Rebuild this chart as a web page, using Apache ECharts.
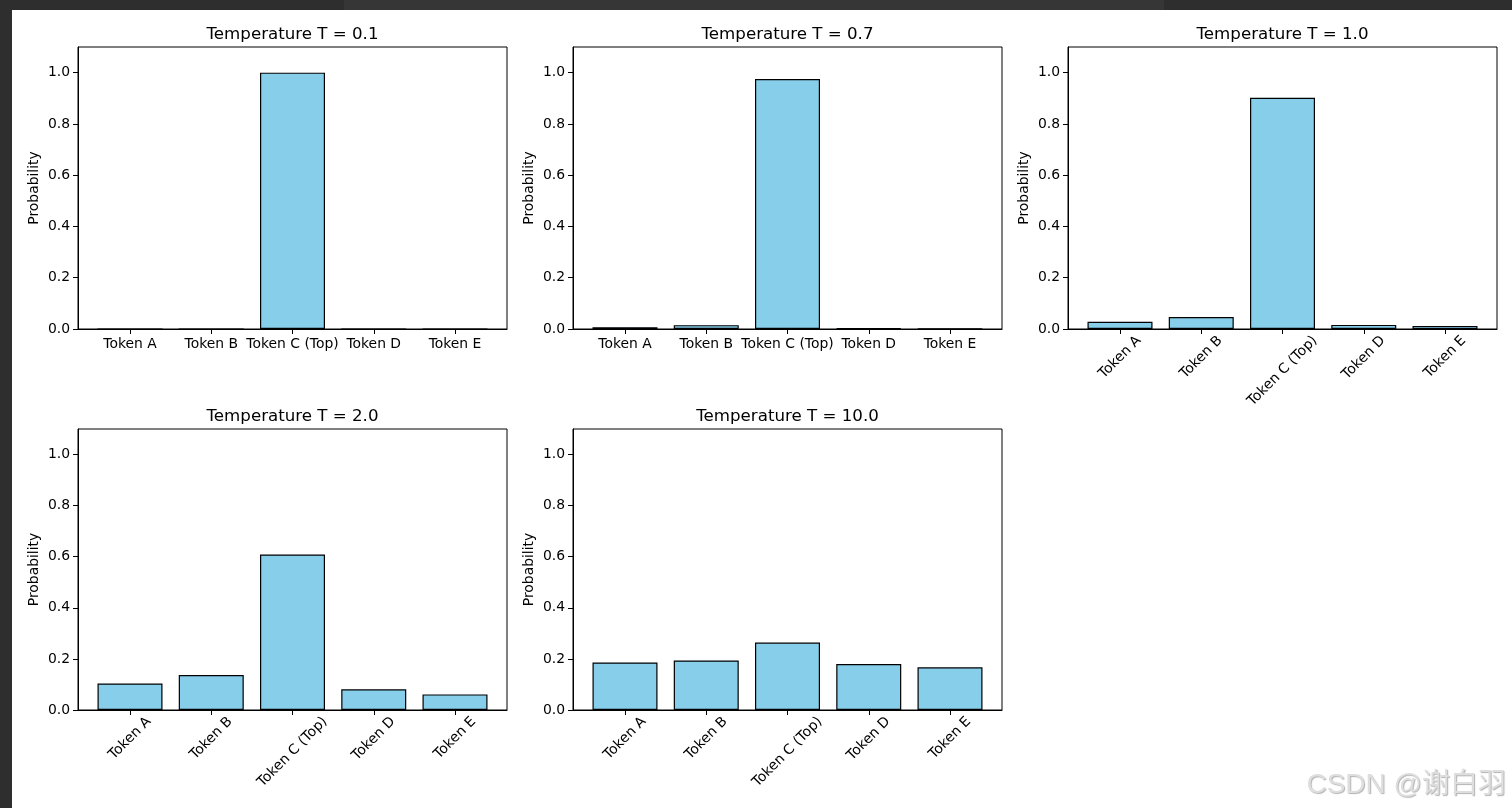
<!DOCTYPE html>
<html>
<head>
<meta charset="utf-8">
<script src="https://cdn.jsdelivr.net/npm/echarts@6/dist/echarts.min.js"></script>
<style>
  html, body { margin: 0; padding: 0; background: #ffffff; }
  #chart { position: absolute; left: 0; top: 0; width: 1512px; height: 808px; }
  .band { position: absolute; background: #2e2e2e; }
</style>
</head>
<body>
<div id="chart"></div>
<div class="band" style="left:0;top:0;width:1512px;height:10px;"></div>
<div class="band" style="left:0;top:0;width:12px;height:808px;"></div>
<div class="band" style="left:344px;top:0;width:820px;height:10px;background:#363636;"></div>
<script>
// ---- data ----
const categories = ['Token A', 'Token B', 'Token C (Top)', 'Token D', 'Token E'];
const temperatures = ['0.1', '0.7', '1.0', '2.0', '10.0'];
const probsT01 = [0.0, 0.0, 1.0, 0.0, 0.0];
const probsT07 = [0.007, 0.015, 0.975, 0.003, 0.002];
const probsT10 = [0.028, 0.047, 0.902, 0.016, 0.012];
const probsT20 = [0.104, 0.137, 0.609, 0.081, 0.061];
const probsT100 = [0.186, 0.194, 0.264, 0.180, 0.167];
const yTickValues = [0, 0.2, 0.4, 0.6, 0.8, 1.0];
const watermark = 'CSDN @谢白羽';

const allProbs = [probsT01, probsT07, probsT10, probsT20, probsT100];
const rotated = [false, false, true, true, true];

// ---- layout ----
const FONT = 'DejaVu Sans';
const tickFont = 13.9;
const titleFont = 16.67;
const colLeft = [78, 573, 1068];
const rowTop = [47, 429];
const W = 429, H = [282, 281];
const xMin = -0.64, xMax = 4.64;

const chart = echarts.init(document.getElementById('chart'), null, { renderer: 'canvas' });

const ctx = document.createElement('canvas').getContext('2d');
ctx.font = tickFont + 'px "' + FONT + '"';
const textH = 14;
const richRot = {};
categories.forEach((c, i) => {
  const w = ctx.measureText(c).width;
  const P = (w + textH) / 2;
  richRot['r' + i] = {
    padding: [P, P, 0, 0],
    fontFamily: FONT, fontSize: tickFont, color: '#000', lineHeight: 14
  };
});

const grids = [], xAxes = [], yAxes = [], series = [], titles = [];
allProbs.forEach((probs, k) => {
  const row = k < 3 ? 0 : 1;
  const col = k < 3 ? k : k - 3;
  const left = colLeft[col], top = rowTop[row], h = H[row];
  grids.push({
    left: left, top: top, width: W, height: h,
    show: true, borderColor: '#000', borderWidth: 1, backgroundColor: 'transparent'
  });
  titles.push({
    text: 'Temperature T = ' + temperatures[k],
    left: left + W / 2, top: top - 21, textAlign: 'center', padding: 0,
    textStyle: { fontFamily: FONT, fontSize: titleFont, fontWeight: 'normal', color: '#000' }
  });
  const rot = rotated[k];
  xAxes.push({
    type: 'value', gridIndex: k, min: xMin, max: xMax,
    axisLine: { show: true, onZero: false, lineStyle: { color: '#000', width: 1 } },
    axisTick: { show: true, length: 5, customValues: categories.map((_, i) => i), lineStyle: { color: '#000' } },
    splitLine: { show: false },
    axisLabel: rot ? {
      customValues: categories.map((_, i) => i),
      rotate: 45, align: 'center', verticalAlign: 'middle', margin: 4.5,
      formatter: (v) => { const i = Math.round(v); return '{r' + i + '|' + categories[i] + '}'; },
      rich: richRot,
      fontFamily: FONT, fontSize: tickFont, color: '#000'
    } : {
      customValues: categories.map((_, i) => i),
      margin: 8,
      formatter: (v) => categories[Math.round(v)],
      fontFamily: FONT, fontSize: tickFont, color: '#000'
    }
  });
  yAxes.push({
    type: 'value', gridIndex: k, min: 0, max: 1.1,
    name: 'Probability', nameLocation: 'middle', nameGap: 37,
    nameTextStyle: { fontFamily: FONT, fontSize: tickFont, color: '#000' },
    axisLine: { show: true, onZero: false, lineStyle: { color: '#000', width: 1 } },
    axisTick: { show: true, length: 5, customValues: yTickValues, lineStyle: { color: '#000' } },
    splitLine: { show: false },
    axisLabel: {
      customValues: yTickValues, margin: 8,
      formatter: (v) => v.toFixed(1),
      fontFamily: FONT, fontSize: tickFont, color: '#000'
    }
  });
  series.push({
    type: 'bar', xAxisIndex: k, yAxisIndex: k,
    barWidth: W * 0.8 / (xMax - xMin),
    data: probs.map((p, i) => [i, p]),
    itemStyle: { color: '#87CEEB', borderColor: '#000', borderWidth: 1.2 },
    emphasis: { disabled: true },
    animation: false
  });
});

chart.setOption({
  backgroundColor: '#ffffff',
  animation: false,
  title: titles,
  grid: grids,
  xAxis: xAxes,
  yAxis: yAxes,
  series: series,
  graphic: [{
    type: 'text', right: 6, bottom: 9, z: 100,
    style: {
      text: watermark,
      font: '28px "Liberation Sans", "Noto Sans CJK SC", sans-serif',
      fill: '#dedede',
      textShadowColor: 'rgba(0,0,0,0.3)', textShadowBlur: 1, textShadowOffsetX: 1, textShadowOffsetY: 1
    }
  }]
});
</script>
</body>
</html>
